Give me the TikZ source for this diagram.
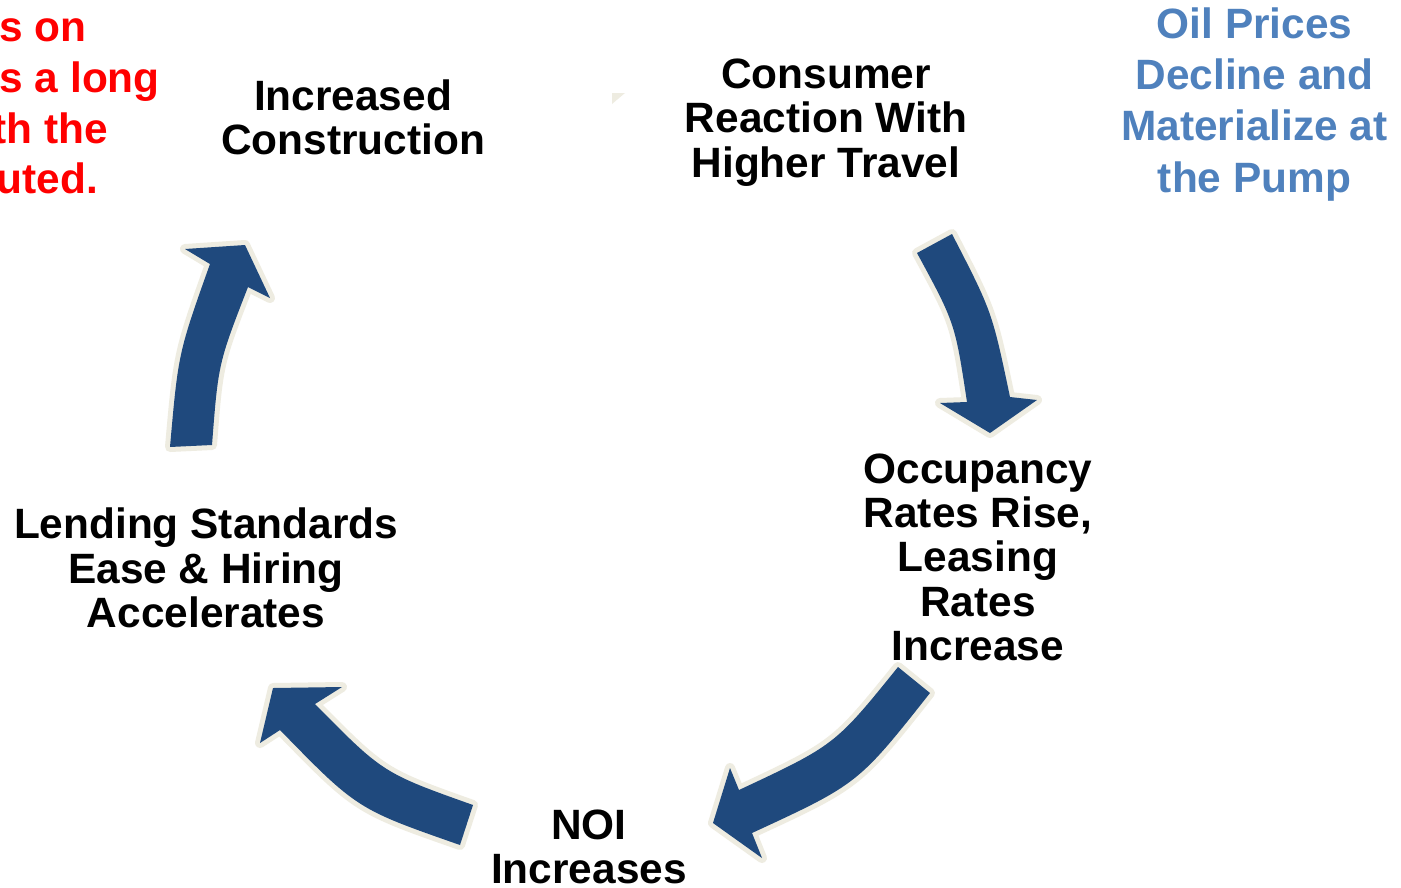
\documentclass[tikz,border=0pt]{standalone}
\usepackage{fontspec}
\setmainfont{Liberation Sans}
\definecolor{arrowblue}{RGB}{31,73,125}
\definecolor{cream}{RGB}{238,236,225}
\definecolor{textblue}{RGB}{79,129,189}
\definecolor{alertred}{RGB}{255,0,0}
\tikzset{
  arrowbody/.style={fill=arrowblue, preaction={draw=cream, line width=10pt, line join=round}},
  stagetext/.style={inner sep=0pt, align=center, anchor=north, text=black,
    font=\bfseries\fontsize{42.4}{44.3}\selectfont},
  oiltext/.style={inner sep=0pt, align=center, anchor=north, text=textblue,
    font=\bfseries\fontsize{42.4}{51.2}\selectfont},
  redfrag/.style={inner sep=0pt, anchor=base east, text=alertred,
    font=\bfseries\fontsize{42.4}{50.6}\selectfont}
}
\begin{document}
\begin{tikzpicture}[x=1pt,y=-1pt]
\useasboundingbox (0,0) rectangle (1401,887);
\clip (0,0) rectangle (1401,887);
\fill[white] (0,0) rectangle (1401,887);

% red text fragments (cut off at the left edge)
\node[redfrag] (r1) at (87,41) {s on};
\node[redfrag] (r2) at (160,92) {s a long};
\node[redfrag] (r3) at (108,143) {th the};
\node[redfrag] (r4) at (98,193) {uted.};

% stage texts
\node[stagetext] (construction) at (353,79.2) {Increased\\Construction};
\node[stagetext] (consumer) at (826,58.8) {Consumer\\Reaction With\\Higher Travel};
\node[stagetext] (occupancy) at (978,453.5) {Occupancy\\Rates Rise,\\Leasing\\Rates\\Increase};
\node[stagetext] (noi) at (589,809.2) {NOI\\Increases};
\node[stagetext] (lending) at (206,507.8) {Lending Standards\\Ease \& Hiring\\Accelerates};
\node[oiltext] (oil) at (1254.5,7.6) {Oil Prices\\Decline and\\Materialize at\\the Pump};

% small leftover mark
\fill[cream] (612,93) -- (625,93) -- (612,104) -- cycle;

% curved block arrows
\path[arrowbody] (917,253) .. controls (955,323) .. (967,402) -- (940,403) -- (990,433)
  -- (1037,400) -- (1010,397) .. controls (992,311.5) .. (952,234) -- cycle;
\path[arrowbody] (898,667) .. controls (835,745) .. (739,790) -- (730,768) -- (713,823)
  -- (762,858) -- (752,833) .. controls (858,784) .. (930,693) -- cycle;
\path[arrowbody] (473,805) .. controls (383,773) .. (315,704) -- (342,687) -- (273,688)
  -- (260,743) -- (280,730) .. controls (357,809) .. (460,845) -- cycle;
\path[arrowbody] (170,447) .. controls (178.3,353) .. (210,264) -- (185,249) -- (245,245)
  -- (270,298) -- (248,287) .. controls (218.3,363.3) .. (212,445) -- cycle;
\end{tikzpicture}
\end{document}
